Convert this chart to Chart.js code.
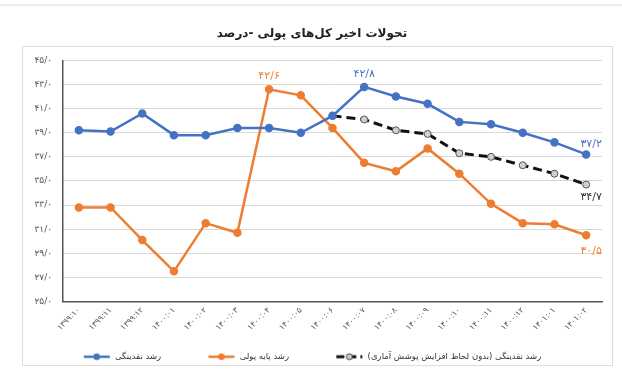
<!DOCTYPE html>
<html><head><meta charset="utf-8">
<script src="https://cdn.jsdelivr.net/npm/chart.js@4/dist/chart.umd.min.js"></script>
<style>html,body{margin:0;padding:0;background:#fff}#wrap{width:622px;height:388px;position:relative}</style>
</head><body><div id="wrap"><canvas id="c" width="622" height="388"></canvas></div>
<script>
const categories = ["۱۳۹۹:۱۰","۱۳۹۹:۱۱","۱۳۹۹:۱۲","۱۴۰۰:۰۱","۱۴۰۰:۰۲","۱۴۰۰:۰۳","۱۴۰۰:۰۴","۱۴۰۰:۰۵","۱۴۰۰:۰۶","۱۴۰۰:۰۷","۱۴۰۰:۰۸","۱۴۰۰:۰۹","۱۴۰۰:۱۰","۱۴۰۰:۱۱","۱۴۰۰:۱۲","۱۴۰۱:۰۱","۱۴۰۱:۰۲"];
const liquidityGrowth = [39.2,39.1,40.6,38.8,38.8,39.4,39.4,39.0,40.4,42.8,42.0,41.4,39.9,39.7,39.0,38.2,37.2];
const baseMoneyGrowth = [32.8,32.8,30.1,27.5,31.5,30.7,42.6,42.1,39.4,36.5,35.8,37.7,35.6,33.1,31.5,31.4,30.5];
const liquidityAdjusted = [null,null,null,null,null,null,null,null,40.4,40.1,39.2,38.9,37.3,37.0,36.3,35.6,34.7];
const seriesNames = ["رشد نقدینگی","رشد پایه پولی","رشد نقدینگی (بدون لحاظ افزایش پوشش آماری)"];
const titleText = "تحولات اخیر کل‌های پولی -درصد";
const yMin = 25, yMax = 45, yStep = 2;
// labels: [datasetIndex, pointIndex, text]
const valueLabels = [[0,9,"۴۲/۸"],[1,6,"۴۲/۶"],[0,16,"۳۷/۲"],[2,16,"۳۴/۷"],[1,16,"۳۰/۵"]];

const FONT = "'DejaVu Sans', 'Noto Sans', sans-serif";
const BLUE = "#4472C4", ORANGE = "#ED7D31";
const RLM = "\u200F";
const GAP = "\u2003\u2003\u2003\u2003\u2002";
const faDigits = "۰۱۲۳۴۵۶۷۸۹";
const toFa = s => String(s).replace(/[0-9]/g, d => faDigits[+d]);

function legendIcon(color, fill, border, dashed) {
  const cv = document.createElement('canvas');
  cv.width = 28; cv.height = 10;
  const x = cv.getContext('2d');
  x.strokeStyle = color; x.lineWidth = dashed ? 3 : 2.5;
  if (dashed) x.setLineDash([8,4]);
  x.beginPath(); x.moveTo(1,5); x.lineTo(27,5); x.stroke();
  x.setLineDash([]);
  x.beginPath(); x.arc(14,5,3,0,Math.PI*2);
  x.fillStyle = fill; x.fill();
  x.strokeStyle = border; x.lineWidth = 1; x.stroke();
  return cv;
}
const icons = [legendIcon(BLUE,BLUE,BLUE,false), legendIcon(ORANGE,ORANGE,ORANGE,false), legendIcon('#111','#d0d0d0','#444',true)];

const framePlugin = {
  id: 'frame',
  beforeDraw(chart) {
    const c = chart.ctx;
    c.save();
    c.strokeStyle = '#eeeeee'; c.lineWidth = 2;
    c.beginPath(); c.moveTo(0,5); c.lineTo(622,5); c.stroke();
    c.strokeStyle = '#dcdcdc'; c.lineWidth = 1;
    c.strokeRect(22.5, 46.5, 590, 319);
    c.restore();
  }
};
const labelPlugin = {
  id: 'vlabels',
  afterDatasetsDraw(chart) {
    const c = chart.ctx;
    c.save();
    c.font = "11px " + FONT;
    const colors = [BLUE, ORANGE, '#333'];
    valueLabels.forEach(([di, pi, txt]) => {
      const el = chart.getDatasetMeta(di).data[pi];
      c.fillStyle = colors[di];
      c.textAlign = 'center'; c.textBaseline = 'middle';
      let dx = 0, dy = -13;
      if (pi === 16) { dx = 5; dy = di === 0 ? -10 : (di === 1 ? 16 : 13); }
      c.fillText(txt, el.x + dx, el.y + dy);
    });
    c.restore();
  }
};

new Chart(document.getElementById('c'), {
  type: 'line',
  data: {
    labels: categories,
    datasets: [
      { label: seriesNames[0], data: liquidityGrowth, borderColor: BLUE, backgroundColor: BLUE, borderWidth: 2.5, pointRadius: 3, pointBackgroundColor: BLUE, pointBorderColor: BLUE, tension: 0 },
      { label: seriesNames[1], data: baseMoneyGrowth, borderColor: ORANGE, backgroundColor: ORANGE, borderWidth: 2.5, pointRadius: 3, pointBackgroundColor: ORANGE, pointBorderColor: ORANGE, tension: 0 },
      { label: seriesNames[2], data: liquidityAdjusted, borderColor: '#111', backgroundColor: '#d0d0d0', borderWidth: 3, borderDash: [9,5], pointRadius: 3.5, pointBackgroundColor: '#d0d0d0', pointBorderColor: '#555', pointBorderWidth: 1, tension: 0 }
    ]
  },
  options: {
    responsive: false,
    animation: false,
    devicePixelRatio: 1,
    layout: { padding: { left: 22, right: 20, top: 0, bottom: 17 } },
    plugins: {
      title: { display: true, text: titleText, font: { family: FONT, size: 12, weight: 'bold' }, color: '#222', padding: { top: 27, bottom: 19 } },
      legend: {
        position: 'bottom',
        labels: {
          font: { family: FONT, size: 8.5 }, color: '#333',
          usePointStyle: true, pointStyleWidth: 28, boxHeight: 10, padding: 8,
          generateLabels(chart) {
            const n = chart.data.datasets.length;
            return chart.data.datasets.map((ds, i) => ({
              text: RLM + ds.label + RLM + (i < n - 1 ? GAP : ""), pointStyle: icons[i], fillStyle: ds.borderColor, strokeStyle: ds.borderColor,
              lineWidth: 0, hidden: false, datasetIndex: i, fontColor: '#333'
            }));
          }
        }
      },
      tooltip: { enabled: false }
    },
    scales: {
      x: {
        offset: true,
        grid: { display: false, drawTicks: false },
        border: { display: true, color: '#555', width: 1.5 },
        ticks: { font: { family: FONT, size: 8 }, color: '#555', maxRotation: 45, minRotation: 45, padding: 4, autoSkip: false },
        afterFit(s) { s.height = 43; }
      },
      y: {
        min: yMin, max: yMax,
        grid: { color: '#d9d9d9', lineWidth: 1, drawTicks: false },
        border: { display: true, color: '#555', width: 1.5 },
        ticks: { stepSize: yStep, font: { family: FONT, size: 9 }, color: '#555', padding: 11, callback: v => toFa(v) + "/۰" },
        afterFit(s) { s.width = 41; }
      }
    }
  },
  plugins: [framePlugin, labelPlugin]
});
</script></body></html>
